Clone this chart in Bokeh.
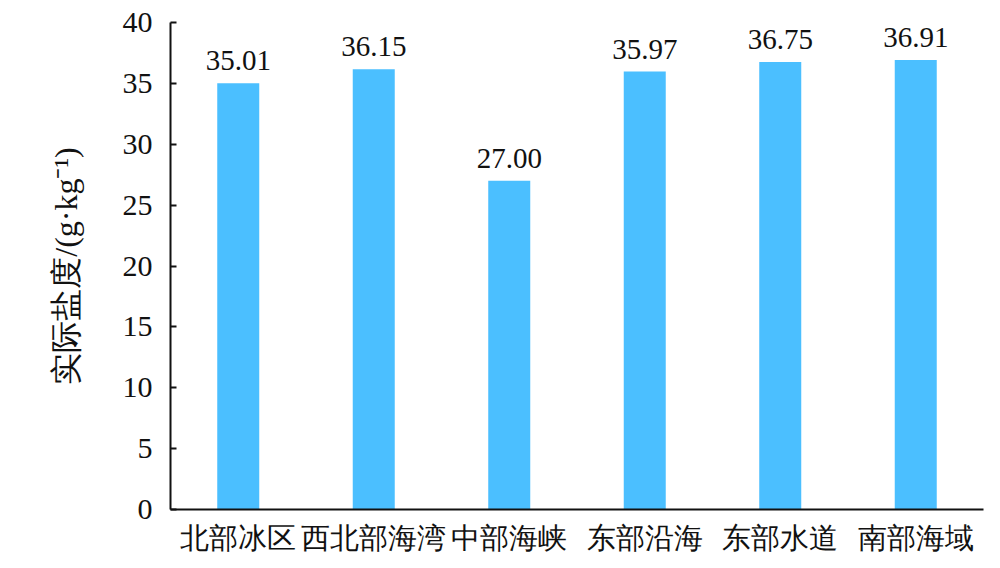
from bokeh.plotting import figure
from bokeh.models import ColumnDataSource, FixedTicker, Range1d, LabelSet
from bokeh.embed import file_html
from bokeh.resources import INLINE

categories = ["北部冰区", "西北部海湾", "中部海峡", "东部沿海", "东部水道", "南部海域"]
salinity = [35.01, 36.15, 27.00, 35.97, 36.75, 36.91]
y_ticks = [0, 5, 10, 15, 20, 25, 30, 35, 40]

FONT = "Liberation Serif"

src = ColumnDataSource(dict(cat=categories, val=salinity,
                            lab=[f"{v:.2f}" for v in salinity]))

p = figure(x_range=categories, y_range=Range1d(0, 40), width=1000, height=560,
           output_backend="svg", toolbar_location=None,
           min_border_left=170, min_border_right=17, min_border_top=22, min_border_bottom=51)
p.outline_line_color = None
p.grid.visible = False
p.background_fill_color = "white"
p.border_fill_color = "white"

p.vbar(x="cat", top="val", width=0.31, source=src, fill_color="#4bbfff", line_color=None)

labels = LabelSet(x="cat", y="val", text="lab", source=src, text_align="center",
                  text_baseline="alphabetic", y_offset=13, text_font=FONT,
                  text_font_size="29px", text_color="#111111")
p.add_layout(labels)

p.yaxis.ticker = FixedTicker(ticks=y_ticks)
p.yaxis.major_tick_in = 6
p.yaxis.major_tick_out = 0
p.yaxis.minor_tick_line_color = None
p.yaxis.major_label_standoff = 18
p.yaxis.axis_line_width = 2
p.yaxis.major_tick_line_width = 2
p.yaxis.axis_line_color = "#111111"
p.yaxis.major_tick_line_color = "#111111"
p.yaxis.major_label_text_font = FONT
p.yaxis.major_label_text_font_size = "30px"
p.yaxis.major_label_text_color = "#111111"
p.yaxis.axis_label = "实际盐度/(g·kg⁻¹)"
p.yaxis.axis_label_text_font = FONT
p.yaxis.axis_label_text_font_size = "32px"
p.yaxis.axis_label_text_font_style = "normal"
p.yaxis.axis_label_text_color = "#111111"
p.yaxis.axis_label_standoff = 36

p.xaxis.major_tick_line_color = None
p.xaxis.minor_tick_line_color = None
p.xaxis.axis_line_width = 2
p.xaxis.axis_line_color = "#111111"
p.xaxis.major_label_text_font = FONT
p.xaxis.major_label_text_font_size = "29px"
p.xaxis.major_label_text_color = "#111111"
p.xaxis.major_label_standoff = 6

open("out.html", "w").write(file_html(p, INLINE))
